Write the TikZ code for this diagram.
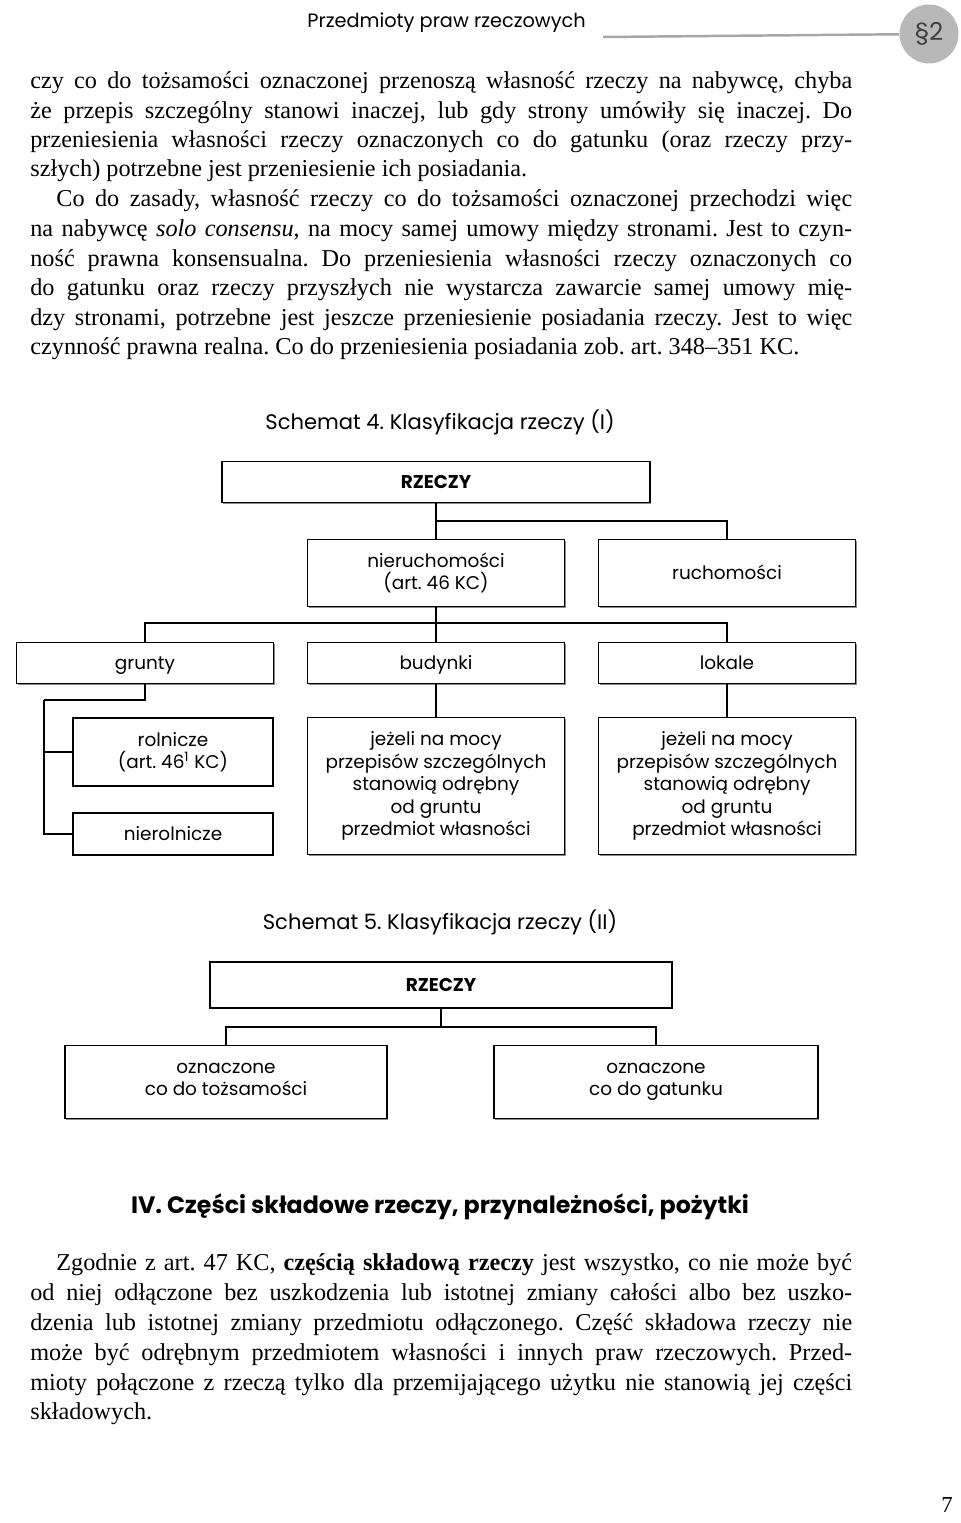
\documentclass[tikz,border=0pt]{standalone}
\usepackage{fontspec}
\usepackage{graphicx}
\setmainfont{Liberation Serif}
\newfontfamily\gothic{Poppins}
\usetikzlibrary{shadows}
\frenchspacing

\newlength\tw
\setlength\tw{16.44cm}
% justified line of the page text
\newcommand\jline[1]{\setbox0=\hbox{#1}\ifdim\wd0>\tw\resizebox{\tw}{\height}{\box0}\else\hbox to\tw{#1}\fi}

\begin{document}
\begin{tikzpicture}[x=0.02cm, y=-0.02cm,
    txt/.style={anchor=base west, inner sep=0pt, font=\fontsize{13.8}{16}\selectfont},
    box/.style={draw, line width=0.9pt, fill=white, align=center, inner sep=2pt,
        font=\gothic\fontsize{10.5}{12.8}\selectfont,
        drop shadow={shadow xshift=0.7pt, shadow yshift=-0.7pt, fill=black!45, opacity=1}},
    one/.style={text height=2ex, text depth=0.45ex},
    title/.style={font=\gothic\fontsize{12}{15}\selectfont},
    link/.style={line width=0.8pt}]
\useasboundingbox (0,0) rectangle (960,1523);

% page head
\node (hdr) [anchor=base west, inner sep=0pt, font=\gothic\fontsize{11}{14}\selectfont] at (307,28) {Przedmioty praw rzeczowych};
\node (par) at (929,34) [circle, fill=black!28, minimum size=1.18cm, inner sep=0pt, font=\gothic\fontsize{14}{16}\selectfont, text=black!75] {\S2};
\coordinate (hl) at (603,37);
\draw[black!35, line width=1.4pt] (hl) -- (par);

% text above
\node (l1) [txt] at (30,89) {\jline{czy co do tożsamości oznaczonej przenoszą własność rzeczy na nabywcę, chyba}};
\node (l2) [txt] at (30,119) {\jline{że przepis szczególny stanowi inaczej, lub gdy strony umówiły się inaczej. Do}};
\node (l3) [txt] at (30,148) {\jline{przeniesienia własności rzeczy oznaczonych co do gatunku (oraz rzeczy przy-}};
\node (l4) [txt] at (30,177) {szłych) potrzebne jest przeniesienie ich posiadania.};
\node (l5) [txt] at (30,207) {\jline{\hskip0.52cm Co do zasady, własność rzeczy co do tożsamości oznaczonej przechodzi więc}};
\node (l6) [txt] at (30,237) {\jline{na nabywcę \textit{solo consensu}, na mocy samej umowy między stronami. Jest to czyn-}};
\node (l7) [txt] at (30,267) {\jline{ność prawna konsensualna. Do przeniesienia własności rzeczy oznaczonych co}};
\node (l8) [txt] at (30,296) {\jline{do gatunku oraz rzeczy przyszłych nie wystarcza zawarcie samej umowy mię-}};
\node (l9) [txt] at (30,326) {\jline{dzy stronami, potrzebne jest jeszcze przeniesienie posiadania rzeczy. Jest to więc}};
\node (l10) [txt] at (30,355) {czynność prawna realna. Co do przeniesienia posiadania zob. art. 348–351 KC.};

% Schemat 4
\node (s4) [title] at (440,422) {Schemat 4. Klasyfikacja rzeczy (I)};
\node (rz4) at (436,482) [box, one, minimum width=8.56cm, minimum height=0.82cm] {\bfseries RZECZY};
\node (nier) at (436,573) [box, minimum width=5.14cm, minimum height=1.34cm] {nieruchomości\\(art. 46 KC)};
\node (ruch) at (727,573) [box, one, minimum width=5.14cm, minimum height=1.34cm] {ruchomości};
\node (grun) at (145,663) [box, one, minimum width=5.14cm, minimum height=0.82cm] {grunty};
\node (bud) at (436,663) [box, one, minimum width=5.14cm, minimum height=0.82cm] {budynki};
\node (lok) at (727,663) [box, one, minimum width=5.14cm, minimum height=0.82cm] {lokale};
\node (roln) at (173,752) [box, minimum width=4cm, minimum height=1.36cm] {rolnicze\\(art. 46\textsuperscript{1} KC)};
\node (nroln) at (173,834) [box, one, minimum width=4cm, minimum height=0.84cm] {nierolnicze};
\node (bud2) at (436,786) [box, minimum width=5.14cm, minimum height=2.74cm] {jeżeli na mocy\\przepisów szczególnych\\stanowią odrębny\\od gruntu\\przedmiot własności};
\node (lok2) at (727,786) [box, minimum width=5.14cm, minimum height=2.74cm] {jeżeli na mocy\\przepisów szczególnych\\stanowią odrębny\\od gruntu\\przedmiot własności};

\coordinate (j1) at (436,521);
\coordinate (j2) at (436,623);
\coordinate (j3) at (44,700);
\draw[link] (rz4) -- (nier);
\draw[link] (j1) -| (ruch.north);
\draw[link] (nier) -- (bud);
\draw[link] (grun.north) |- (j2) -| (lok.north);
\draw[link] (grun.south) |- (j3);
\draw[link] (j3) |- (nroln.west);
\draw[link] (j3) |- (roln.west);
\draw[link] (bud) -- (bud2);
\draw[link] (lok) -- (lok2);

% Schemat 5
\node (s5) [title] at (440,922) {Schemat 5. Klasyfikacja rzeczy (II)};
\node (rz5) at (441,985) [box, one, minimum width=9.24cm, minimum height=0.92cm] {\bfseries RZECZY};
\node (ozt) at (226,1082) [box, minimum width=6.44cm, minimum height=1.46cm] {oznaczone\\co do tożsamości\vphantom{g}};
\node (ozg) at (656,1082) [box, minimum width=6.48cm, minimum height=1.46cm] {oznaczone\\co do gatunku\vphantom{ś}};

\coordinate (j5) at (441,1027);
\draw[link] (rz5) -- (j5);
\draw[link] (ozt.north) |- (j5) -| (ozg.north);

% section
\node (sec) [font=\gothic\bfseries\fontsize{13.5}{16}\selectfont] at (440,1207) {IV. Części składowe rzeczy, przynależności, pożytki};

\node (m1) [txt] at (30,1270) {\jline{\hskip0.52cm Zgodnie z art. 47 KC, \textbf{częścią składową rzeczy} jest wszystko, co nie może być}};
\node (m2) [txt] at (30,1300) {\jline{od niej odłączone bez uszkodzenia lub istotnej zmiany całości albo bez uszko-}};
\node (m3) [txt] at (30,1330) {\jline{dzenia lub istotnej zmiany przedmiotu odłączonego. Część składowa rzeczy nie}};
\node (m4) [txt] at (30,1360) {\jline{może być odrębnym przedmiotem własności i innych praw rzeczowych. Przed-}};
\node (m5) [txt] at (30,1390) {\jline{mioty połączone z rzeczą tylko dla przemijającego użytku nie stanowią jej części}};
\node (m6) [txt] at (30,1419) {składowych.};

\node (pg) [font=\fontsize{13}{16}\selectfont] at (947,1505) {7};
\end{tikzpicture}
\end{document}
